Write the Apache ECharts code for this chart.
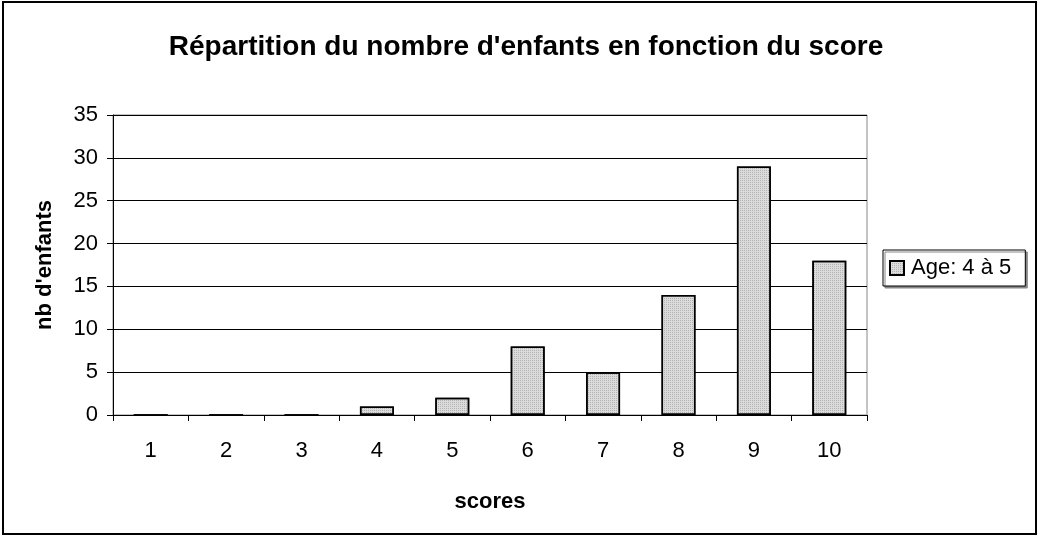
<!DOCTYPE html>
<html>
<head>
<meta charset="utf-8">
<script src="https://cdn.jsdelivr.net/npm/echarts@6/dist/echarts.min.js"></script>
<style>
html, body { margin: 0; padding: 0; background: #fff; }
#chart { width: 1042px; height: 537px; }
</style>
</head>
<body>
<div id="chart"></div>
<script>
// données
var scores = ['1', '2', '3', '4', '5', '6', '7', '8', '9', '10'];
var nbEnfants = [0, 0, 0, 1, 2, 8, 5, 14, 29, 18];
var serieNom = 'Age: 4 à 5';
var yTicks = { min: 0, max: 35, interval: 5 };

var myChart = echarts.init(document.getElementById('chart'));
var fontFam = '"Liberation Sans", Arial, sans-serif';

var option = {
    backgroundColor: '#fff',
    animation: false,
    textStyle: { fontFamily: fontFam },
    graphic: [{
        type: 'rect',
        shape: { x: 3, y: 2, width: 1033, height: 532 },
        style: { fill: 'none', stroke: '#000', lineWidth: 2 },
        z: -1
    }],
    title: {
        text: "Répartition du nombre d'enfants en fonction du score",
        left: 521,
        textAlign: 'center',
        top: 28,
        textStyle: { fontFamily: fontFam, fontSize: 28, fontWeight: 'bold', color: '#000' }
    },
    legend: {
        data: [serieNom],
        icon: 'rect',
        left: 883,
        top: 250,
        orient: 'vertical',
        padding: [7, 14, 7, 6],
        itemWidth: 14,
        itemHeight: 14,
        itemGap: 4,
        borderColor: '#000',
        borderWidth: 1,
        backgroundColor: '#fff',
        shadowColor: '#888',
        shadowOffsetX: 2,
        shadowOffsetY: 2,
        shadowBlur: 0,
        textStyle: { fontFamily: fontFam, fontSize: 22, color: '#000', padding: [0, 0, 0, 2] }
    },
    grid: {
        left: 113,
        right: 175,
        top: 115,
        bottom: 122,
        show: true,
        borderColor: '#888',
        borderWidth: 1
    },
    xAxis: {
        type: 'category',
        data: scores,
        name: 'scores',
        nameLocation: 'middle',
        nameGap: 76,
        nameTextStyle: { fontFamily: fontFam, fontSize: 22, fontWeight: 'bold', color: '#000' },
        axisLine: { lineStyle: { color: '#000', width: 1 } },
        axisTick: { show: true, length: 6, lineStyle: { color: '#000' } },
        axisLabel: { fontFamily: fontFam, fontSize: 22, color: '#000', margin: 25 }
    },
    yAxis: {
        type: 'value',
        min: yTicks.min,
        max: yTicks.max,
        interval: yTicks.interval,
        name: "nb d'enfants",
        nameLocation: 'middle',
        nameGap: 57,
        nameTextStyle: { fontFamily: fontFam, fontSize: 22, fontWeight: 'bold', color: '#000' },
        axisLine: { show: true, lineStyle: { color: '#000', width: 1 } },
        axisTick: { show: true, length: 6, lineStyle: { color: '#000' } },
        axisLabel: { fontFamily: fontFam, fontSize: 22, color: '#000', margin: 15 },
        splitLine: { lineStyle: { color: '#000', width: 1 } }
    },
    series: [{
        name: serieNom,
        type: 'bar',
        data: nbEnfants,
        barWidth: '45%',
        itemStyle: {
            color: '#dcdcdc',
            borderColor: '#000',
            borderWidth: 1.5,
            decal: {
                symbol: 'rect',
                symbolSize: 1,
                color: 'rgba(150,150,150,0.6)',
                dashArrayX: [[1, 1]],
                dashArrayY: [1, 1],
                rotation: 0
            }
        }
    }]
};

myChart.setOption(option);
</script>
</body>
</html>
